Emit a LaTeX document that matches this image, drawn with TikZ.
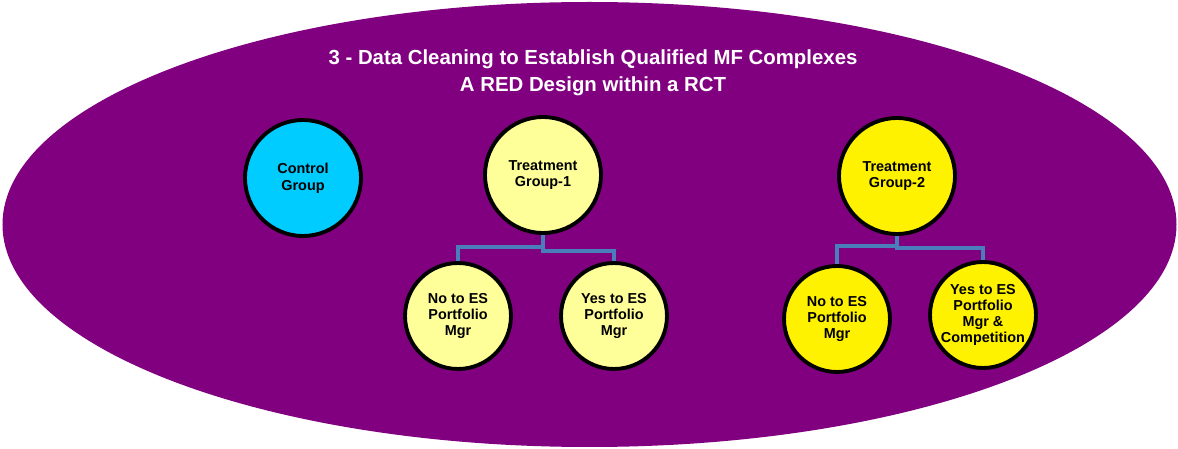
\documentclass[tikz,border=0pt]{standalone}
\usepackage{fontspec}
\setmainfont{Liberation Sans}
\usetikzlibrary{positioning}

\definecolor{plum}{RGB}{128,0,128}
\definecolor{skyfill}{RGB}{0,204,255}
\definecolor{paleyellow}{RGB}{255,255,153}
\definecolor{treeblue}{RGB}{74,126,187}

\begin{document}
\begin{tikzpicture}[x=0.02cm,y=-0.02cm]

\tikzset{group circle/.style={
		circle,
		draw=black,
		line width=2.2pt,
		minimum size=#1*0.04cm,
		inner sep=0pt,
		align=center,
		font=\bfseries\fontsize{8.2}{9.5}\selectfont
	},
	group circle/.default=58,
	sub circle/.style={
		group circle=53,
		font=\bfseries\fontsize{8.2}{9}\selectfont
	},
	tree line/.style={draw=treeblue, line width=2pt}
}

\useasboundingbox (0,0) rectangle (1178,449);

% big ellipse
\fill[white] (0,0) rectangle (1178,449);
\fill[plum] (589.5,224.5) ellipse [x radius=587, y radius=222.5];

\node[text=white, align=center, font=\bfseries\fontsize{11.6}{15.4}\selectfont] (title) at (593,73)
	{3 - Data Cleaning to Establish Qualified MF Complexes\\A RED Design within a RCT};

%|[fill=...]|
\node[group circle, fill=skyfill] (control) at (303,178) {Control\\Group};
\node[group circle, fill=paleyellow] (t1) at (543,175) {Treatment\\Group-1};
\node[group circle, fill=yellow] (t2) at (897,176) {Treatment\\Group-2};

\node[sub circle, fill=paleyellow] (no1) at (458,316) {No to ES\\Portfolio\\Mgr};
\node[sub circle, fill=paleyellow] (yes1) at (614,316) {Yes to ES\\Portfolio\\Mgr};
\node[sub circle, fill=yellow] (no2) at (837,319) {No to ES\\Portfolio\\Mgr};
\node[sub circle, fill=yellow] (yes2) at (983,315) {Yes to ES\\Portfolio\\Mgr \&\\Competition};

\draw[tree line] (t1.south) -- ++(0,12) -| (no1.north);
\draw[tree line] (t1.south) -- ++(0,16) -| (yes1.north);
\draw[tree line] (t2.south) -- ++(0,10) -| (no2.north);
\draw[tree line] (t2.south) -- ++(0,12) -| (yes2.north);

\end{tikzpicture}
\end{document}
